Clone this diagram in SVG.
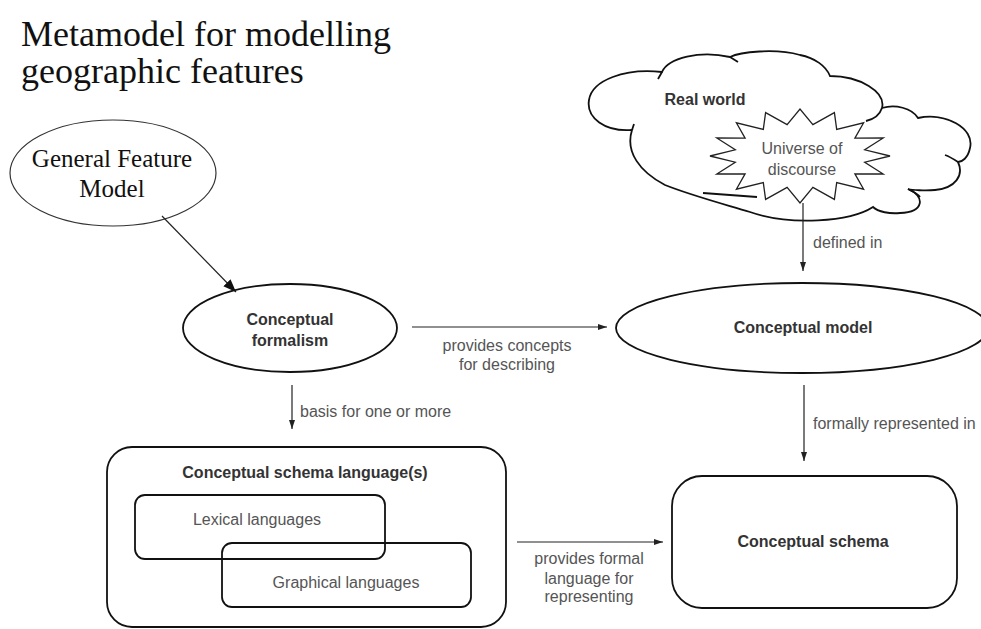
<svg xmlns="http://www.w3.org/2000/svg" width="981" height="629" viewBox="0 0 981 629">
  <style>
    .title { font-family: "Liberation Serif", "Times New Roman", serif; font-size: 36px; fill: #111; }
    .serif { font-family: "Liberation Serif", "Times New Roman", serif; font-size: 25px; fill: #111; text-anchor: middle; }
    .name { font-family: "Liberation Sans", Arial, sans-serif; font-size: 16px; font-weight: bold; fill: #333; text-anchor: middle; }
    .sub { font-family: "Liberation Sans", Arial, sans-serif; font-size: 16px; fill: #555; text-anchor: middle; }
    .lbl { font-family: "Liberation Sans", Arial, sans-serif; font-size: 16px; fill: #555; }
    .lblc { font-family: "Liberation Sans", Arial, sans-serif; font-size: 16px; fill: #555; text-anchor: middle; }
    .shape { fill: none; stroke: #111; stroke-width: 1.8; }
    .thin { fill: none; stroke: #333; stroke-width: 1.2; }
    .conn { fill: none; stroke: #222; stroke-width: 1.2; }
  </style>
  <defs>
    <marker id="arrow" markerUnits="userSpaceOnUse" markerWidth="10" markerHeight="8" refX="9" refY="4" orient="auto">
      <path d="M0,1 L9,4 L0,7 Z" fill="#222"/>
    </marker>
    <marker id="arrowBig" markerUnits="userSpaceOnUse" markerWidth="14" markerHeight="12" refX="13" refY="6" orient="auto">
      <path d="M0,1 L13,6 L0,11 Z" fill="#111"/>
    </marker>
  </defs>

  <!-- heading -->
  <text class="title" x="21" y="46">Metamodel for modelling</text>
  <text class="title" x="21" y="83">geographic features</text>

  <!-- real world cloud with universe of discourse -->
  <g id="real-world">
    <path class="shape" d="M 632,130 C 605,132 586,118 589,100 C 592,80 625,68 662,72 C 668,58 700,50 730,57 C 740,52 775,48 800,55 C 815,58 826,66 830,76 C 860,76 886,92 882,108 C 895,104 912,108 918,118 C 945,112 975,128 970,148 C 968,158 962,162 958,162 C 964,175 956,188 935,190 C 925,191 912,190 908,189 C 925,196 925,212 900,213 C 890,214 878,212 873,207 C 850,222 790,226 750,212 C 720,203 690,195 665,185 C 640,172 625,152 632,130 Z"/>
    <path class="shape" d="M 882,108 C 880,114 875,119 866,121 M 958,162 C 952,158 948,156 945,155 M 908,189 C 912,191 918,194 920,197 M 662,72 L 658,79 M 730,57 L 738,62 M 632,130 L 634,124 M 703,193 L 757,197"/>
    <text class="name" x="705" y="105">Real world</text>
  </g>
  <g id="universe-of-discourse">
    <polygon fill="#fff" stroke="#222" stroke-width="1.3" points="890,156 864.7,162.2 883.2,174 854.9,173.8 863.6,189.2 836.7,182.6 834.4,199.4 812.9,187.4 800,203 787.1,187.4 765.6,199.4 763.3,182.6 736.4,189.2 745.1,173.8 716.8,174 735.3,162.2 710,156 735.3,149.8 716.8,138 745.1,138.2 736.4,122.8 763.3,129.4 765.6,112.6 787.1,124.6 800,109 812.9,124.6 834.4,112.6 836.7,129.4 863.6,122.8 854.9,138.2 883.2,138 864.7,149.8"/>
    <text class="sub" x="802" y="154">Universe of</text>
    <text class="sub" x="802" y="175">discourse</text>
  </g>

  <g id="general-feature-model">
    <ellipse class="thin" cx="113" cy="173" rx="103" ry="53"/>
    <text class="serif" x="112" y="167">General Feature</text>
    <text class="serif" x="112" y="197">Model</text>
  </g>

  <g id="conceptual-formalism">
    <ellipse class="shape" cx="290" cy="328" rx="107" ry="44"/>
    <text class="name" x="290" y="325">Conceptual</text>
    <text class="name" x="290" y="346">formalism</text>
  </g>

  <g id="conceptual-model">
    <ellipse class="shape" cx="802" cy="328" rx="186" ry="45"/>
    <text class="name" x="803" y="333">Conceptual model</text>
  </g>

  <g id="conceptual-schema-languages">
    <rect class="shape" x="107" y="447" width="399" height="180" rx="25"/>
    <text class="name" x="305" y="478">Conceptual schema language(s)</text>
  </g>
  <g id="lexical-languages">
    <rect class="shape" x="135" y="495" width="250" height="64" rx="10"/>
    <text class="sub" x="257" y="525">Lexical languages</text>
  </g>
  <g id="graphical-languages">
    <rect class="shape" x="222" y="543" width="249" height="64" rx="10"/>
    <text class="sub" x="346" y="588">Graphical languages</text>
  </g>

  <g id="conceptual-schema">
    <rect class="shape" x="672" y="476" width="285" height="132" rx="30"/>
    <text class="name" x="813" y="547">Conceptual schema</text>
  </g>

  <!-- connectors and their labels -->
  <g id="connectors">
    <line class="conn" x1="162" y1="216" x2="236" y2="292" marker-end="url(#arrowBig)"/>
    <line class="conn" x1="412" y1="327" x2="607" y2="327" marker-end="url(#arrow)"/>
    <line class="conn" x1="292" y1="385" x2="292" y2="429" marker-end="url(#arrow)"/>
    <line class="conn" x1="803" y1="203" x2="803" y2="271" marker-end="url(#arrow)"/>
    <line class="conn" x1="804" y1="385" x2="804" y2="461" marker-end="url(#arrow)"/>
    <line class="conn" x1="517" y1="542" x2="663" y2="542" marker-end="url(#arrow)"/>

    <text class="lblc" x="507" y="351">provides concepts</text>
    <text class="lblc" x="507" y="370">for describing</text>
    <text class="lbl" x="300" y="417">basis for one or more</text>
    <text class="lbl" x="813" y="248">defined in</text>
    <text class="lbl" x="813" y="429">formally represented in</text>
    <text class="lblc" x="589" y="564">provides formal</text>
    <text class="lblc" x="589" y="584">language for</text>
    <text class="lblc" x="589" y="602">representing</text>
  </g>
</svg>
